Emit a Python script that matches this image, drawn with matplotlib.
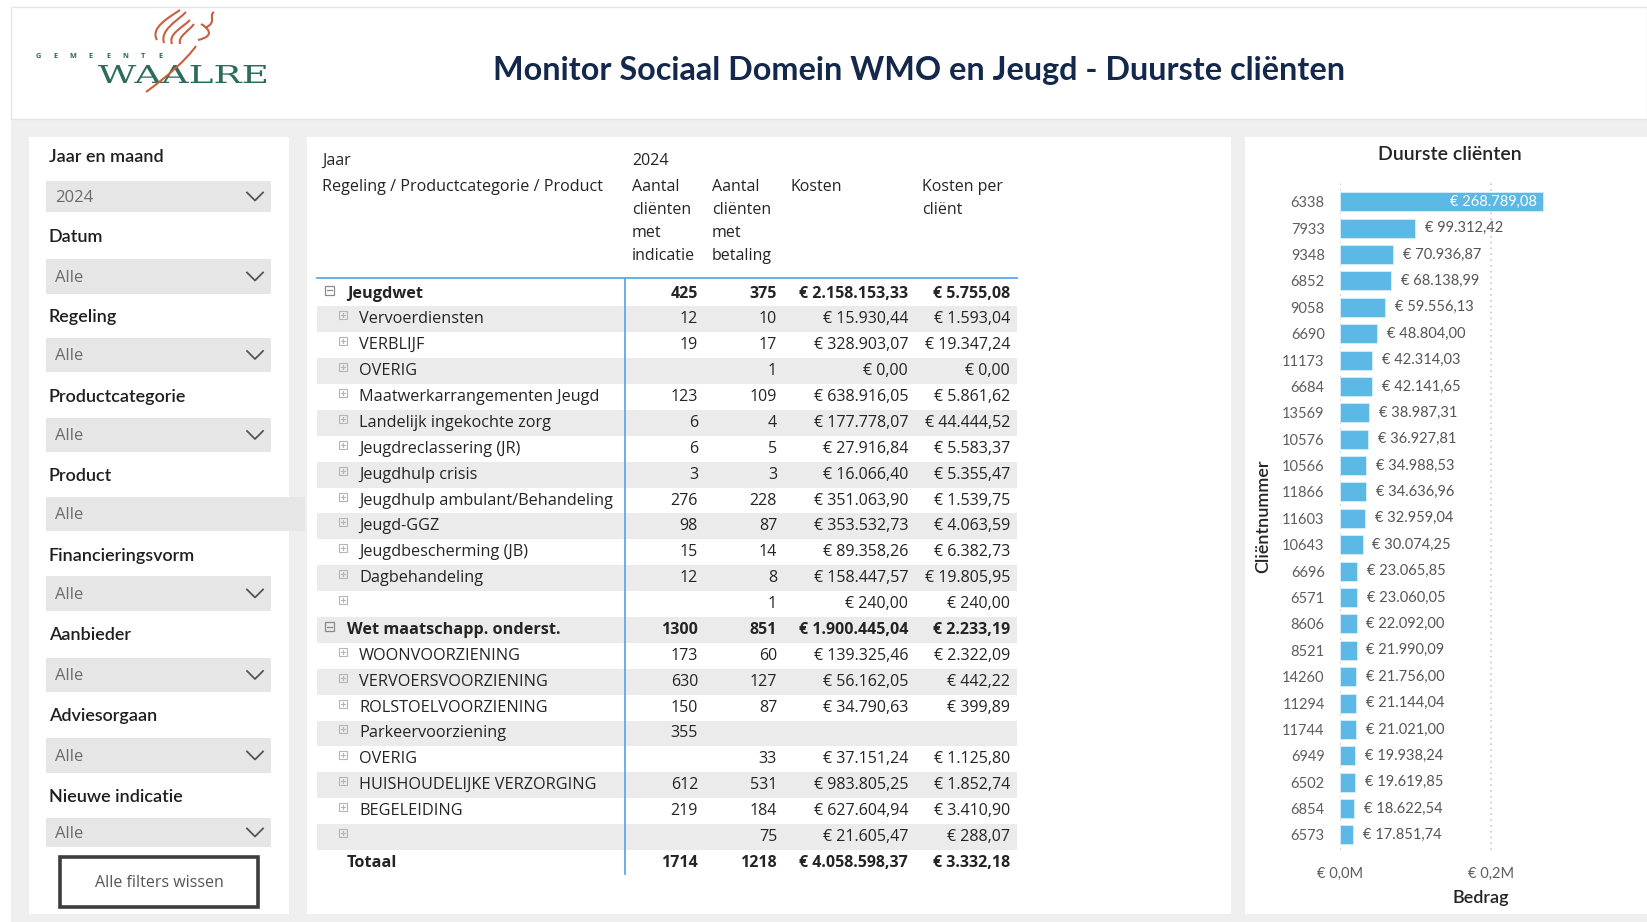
import matplotlib
matplotlib.use("Agg")
import matplotlib.pyplot as plt
from matplotlib.patches import Rectangle, PathPatch
from matplotlib.path import Path
from matplotlib.textpath import TextPath
from matplotlib.font_manager import FontProperties
from matplotlib.transforms import Affine2D
from matplotlib.ticker import FuncFormatter

plt.rcParams['font.family'] = ['Open Sans', 'DejaVu Sans']

# ---------------- data ----------------
title = "Monitor Sociaal Domein WMO en Jeugd - Duurste cliënten"
logo_small = "GEMEENTE"
logo_big = "WAALRE"

filter_labels = ["Jaar en maand", "Datum", "Regeling", "Productcategorie", "Product",
                 "Financieringsvorm", "Aanbieder", "Adviesorgaan", "Nieuwe indicatie"]
filter_values = ["2024", "Alle", "Alle", "Alle", "Alle", "Alle", "Alle", "Alle", "Alle"]
filter_has_chevron = [True, True, True, True, False, True, True, True, True]
button_text = "Alle filters wissen"

col_headers = [["Aantal", "cliënten", "met", "indicatie"],
               ["Aantal", "cliënten", "met", "betaling"],
               ["Kosten"],
               ["Kosten per", "cliënt"]]

row_names = ["Jeugdwet", "Vervoerdiensten", "VERBLIJF", "OVERIG", "Maatwerkarrangementen Jeugd",
             "Landelijk ingekochte zorg", "Jeugdreclassering (JR)", "Jeugdhulp crisis",
             "Jeugdhulp ambulant/Behandeling", "Jeugd-GGZ", "Jeugdbescherming (JB)",
             "Dagbehandeling", "", "Wet maatschapp. onderst.", "WOONVOORZIENING",
             "VERVOERSVOORZIENING", "ROLSTOELVOORZIENING", "Parkeervoorziening", "OVERIG",
             "HUISHOUDELIJKE VERZORGING", "BEGELEIDING", "", "Totaal"]
row_level = [0, 1, 1, 1, 1, 1, 1, 1, 1, 1, 1, 1, 1, 0, 1, 1, 1, 1, 1, 1, 1, 1, 2]
n_indicatie = [425, 12, 19, None, 123, 6, 6, 3, 276, 98, 15, 12, None,
               1300, 173, 630, 150, 355, None, 612, 219, None, 1714]
n_betaling = [375, 10, 17, 1, 109, 4, 5, 3, 228, 87, 14, 8, 1,
              851, 60, 127, 87, None, 33, 531, 184, 75, 1218]
kosten = [2158153.33, 15930.44, 328903.07, 0.00, 638916.05, 177778.07, 27916.84, 16066.40,
          351063.90, 353532.73, 89358.26, 158447.57, 240.00,
          1900445.04, 139325.46, 56162.05, 34790.63, None, 37151.24, 983805.25, 627604.94,
          21605.47, 4058598.37]
kosten_per_client = [5755.08, 1593.04, 19347.24, 0.00, 5861.62, 44444.52, 5583.37, 5355.47,
                     1539.75, 4063.59, 6382.73, 19805.95, 240.00,
                     2233.19, 2322.09, 442.22, 399.89, None, 1125.80, 1852.74, 3410.90,
                     288.07, 3332.18]

clients = ["6338", "7933", "9348", "6852", "9058", "6690", "11173", "6684", "13569", "10576",
           "10566", "11866", "11603", "10643", "6696", "6571", "8606", "8521", "14260",
           "11294", "11744", "6949", "6502", "6854", "6573"]
bedrag = [268789.08, 99312.42, 70936.87, 68138.99, 59556.13, 48804.00, 42314.03, 42141.65,
          38987.31, 36927.81, 34988.53, 34636.96, 32959.04, 30074.25, 23065.85, 23060.05,
          22092.00, 21990.09, 21756.00, 21144.04, 21021.00, 19938.24, 19619.85, 18622.54,
          17851.74]


def euro(v):
    s = f"{v:,.2f}".replace(",", "#").replace(".", ",").replace("#", ".")
    return "€ " + s


# ---------------- figure ----------------
W, H = 1647, 922
fig = plt.figure(figsize=(W / 100, H / 100), dpi=100, facecolor="white")
bg = fig.add_axes([0, 0, 1, 1])
bg.set_xlim(0, W)
bg.set_ylim(H, 0)
bg.axis("off")

TXT = "#252423"
GREY_TXT = "#605e5c"
LATO = ["Lato", "DejaVu Sans"]

# canvas
bg.add_patch(Rectangle((11, 119), W - 11, H - 119, facecolor="#efefef", edgecolor="none"))
# header
bg.add_patch(Rectangle((11, 7), W - 11, 112, facecolor="white", edgecolor="#e6e6e6", lw=1))
bg.text(919, 70.5, title, ha="center", va="center", fontsize=23.3, fontweight="bold",
        color="#14284b", family=LATO)

# logo
for k, ch in enumerate(logo_small):
    bg.text(38 + k * 17.5, 57, ch, ha="center", va="center", fontsize=5.3,
            fontweight="bold", color="#2f6457")
tp = TextPath((0, 0), logo_big, size=100, prop=FontProperties(family="DejaVu Serif"))
ext = tp.get_extents()
tx0, ty0, tx1, ty1 = 98, 65, 266, 83
sx = (tx1 - tx0) / ext.width
sy = (ty1 - ty0) / ext.height
tr = Affine2D().translate(-ext.x0, -ext.y0).scale(sx, -sy).translate(tx0, ty1)
bg.add_patch(PathPatch(tr.transform_path(tp), facecolor="#2d6b5c", edgecolor="none"))
flame = "#c8603f"
curves = [
    [(157, 40), (150, 28), (168, 18), (180, 10)],
    [(164, 43), (160, 30), (176, 22), (186, 12)],
    [(172, 44), (168, 34), (182, 28), (190, 20)],
    [(180, 44), (178, 36), (188, 32), (194, 24)],
    [(198, 40), (216, 36), (208, 28), (201, 24)],
    [(205, 28), (218, 22), (208, 16), (214, 12)],
    [(196, 46), (186, 60), (168, 76), (146, 92)],
]
for c in curves:
    p = Path(c, [Path.MOVETO, Path.CURVE4, Path.CURVE4, Path.CURVE4])
    bg.add_patch(PathPatch(p, facecolor="none", edgecolor=flame, lw=1.5))

# ---------------- left filter panel ----------------
bg.add_patch(Rectangle((29, 137), 260, 777, facecolor="white", edgecolor="none"))
label_y = [157, 237, 317, 397, 476, 556, 635, 716, 797]
box_y = [(181, 212), (259, 294), (338, 372), (418, 452), (497, 531), (576, 611),
         (658, 692), (738, 773), (818, 847)]
for lab, val, chev, ly, (y0, y1) in zip(filter_labels, filter_values, filter_has_chevron,
                                         label_y, box_y):
    bg.text(49, ly, lab, ha="left", va="center", fontsize=13, color="#1f1f1f",
            family=LATO, fontweight="semibold")
    x1 = 271 if chev else 305
    bg.add_patch(Rectangle((46, y0), x1 - 46, y1 - y0, facecolor="#e6e6e6", edgecolor="none"))
    bg.text(55, (y0 + y1) / 2 + 1, val, ha="left", va="center", fontsize=12, color="#6b6b6b")
    if chev:
        cy = (y0 + y1) / 2
        bg.plot([247, 255, 263], [cy - 4, cy + 4, cy - 4], color="#555555", lw=1.3)
bg.add_patch(Rectangle((60, 857), 198, 50, facecolor="white", edgecolor="#3d3d3d", lw=2.6))
bg.text(159, 883, button_text, ha="center", va="center", fontsize=11.5, color="#555555")

# ---------------- table panel ----------------
bg.add_patch(Rectangle((307, 137), 924, 777, facecolor="white", edgecolor="none"))
bg.text(322, 161, "Jaar", ha="left", va="center", fontsize=11.5, color=TXT)
bg.text(632, 161, "2024", ha="left", va="center", fontsize=11.5, color=TXT)
bg.text(322, 187, "Regeling / Productcategorie / Product", ha="left", va="center",
        fontsize=11.6, color=TXT)
col_x = [632, 712, 790, 922]
for cx, lines in zip(col_x, col_headers):
    for j, ln in enumerate(lines):
        bg.text(cx, 187 + j * 23, ln, ha="left", va="center", fontsize=11.5, color=TXT)

tab_x0, tab_x1 = 317, 1017
row0, dy = 293.5, 25.88
col_right = [698, 777, 908, 1010]
for i, name in enumerate(row_names):
    yc = row0 + i * dy
    lvl = row_level[i]
    if i % 2 == 1 and lvl != 2:
        bg.add_patch(Rectangle((tab_x0, yc - dy / 2), tab_x1 - tab_x0, dy,
                               facecolor="#ebebeb", edgecolor="none"))
    bold = lvl != 1
    weight = "bold" if bold else "normal"
    if lvl == 0:
        ix, iy = 329, yc - 3
        bg.add_patch(Rectangle((ix - 4.5, iy - 4.5), 9, 9, facecolor="none",
                               edgecolor="#8a8a8a", lw=0.9))
        bg.plot([ix - 2.5, ix + 2.5], [iy, iy], color="#8a8a8a", lw=0.9)
        tx = 347
    elif lvl == 1:
        ix, iy = 342.5, yc - 4
        bg.add_patch(Rectangle((ix - 4, iy - 4), 8, 8, facecolor="none",
                               edgecolor="#b5b5b5", lw=0.8))
        bg.plot([ix, ix], [iy - 2, iy + 2], color="#b5b5b5", lw=0.8)
        bg.plot([ix - 2, ix + 2], [iy, iy], color="#b5b5b5", lw=0.8)
        tx = 359
    else:
        tx = 347
    bg.text(tx, yc, name, ha="left", va="center", fontsize=11.7, color=TXT, fontweight=weight)
    vals = [n_indicatie[i], n_betaling[i], kosten[i], kosten_per_client[i]]
    for k, v in enumerate(vals):
        if v is None:
            continue
        s = str(v) if k < 2 else euro(v)
        bg.text(col_right[k], yc, s, ha="right", va="center", fontsize=11.5, color=TXT,
                fontweight=weight)

line_blue = "#5fa8ec"
bg.plot([tab_x0, tab_x1], [278, 278], color=line_blue, lw=1.3)
bg.plot([625, 625], [278, 874], color=line_blue, lw=1.3)

# ---------------- bar chart panel ----------------
bg.add_patch(Rectangle((1245, 137), W - 1245, 777, facecolor="white", edgecolor="none"))
bg.text(1450, 155, "Duurste cliënten", ha="center", va="center", fontsize=14,
        color=TXT, family=LATO, fontweight="semibold")

ax_l, ax_r, ax_t, ax_b = 1340, 1622, 182, 850
ax = fig.add_axes([ax_l / W, 1 - ax_b / H, (ax_r - ax_l) / W, (ax_b - ax_t) / H])
ax.patch.set_alpha(0)
ypos = list(range(len(clients)))
bar_color = "#5cb8e4"
ax.barh(ypos, bedrag, height=0.72, color=bar_color, edgecolor="#d9eef9", lw=0.6, zorder=3)
ax.set_xlim(0, 374000)
ax.set_ylim(len(clients) - 0.43, -0.75)
ax.set_yticks(ypos)
ax.set_yticklabels(clients)
ax.set_xticks([0, 200000])
ax.xaxis.set_major_formatter(FuncFormatter(lambda v, p: "€ " + f"{v / 1e6:.1f}".replace(".", ",") + "M"))
ax.tick_params(axis="both", length=0, colors=GREY_TXT, labelsize=10.5)
ax.tick_params(axis="y", pad=11)
ax.tick_params(axis="x", pad=12)
for lbl in ax.get_xticklabels() + ax.get_yticklabels():
    lbl.set_family(LATO)
for sp in ax.spines.values():
    sp.set_visible(False)
ax.grid(axis="x", linestyle=(0, (1, 2.5)), color="#c8c8c8", lw=1.2, zorder=0)
ax.set_xlabel("Bedrag", fontsize=13, color=TXT, labelpad=7, family=LATO,
              fontweight="semibold")
ax.set_ylabel("Cliëntnummer", fontsize=13, color=TXT, labelpad=8,
              family=LATO, fontweight="semibold")
for yv, v in zip(ypos, bedrag):
    if v > 150000:
        ax.text(v - 8000, yv, euro(v), ha="right", va="center", color="white",
                fontsize=10.5, family=LATO, zorder=4)
    else:
        ax.text(v + 13000, yv, euro(v), ha="left", va="center", color="#555555",
                fontsize=10.5, family=LATO, zorder=4)

fig.savefig("out.png", dpi=100, facecolor="white")
